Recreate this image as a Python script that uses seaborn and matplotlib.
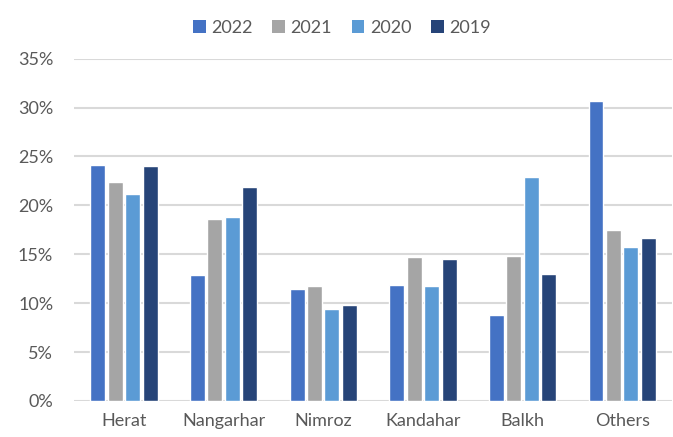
import matplotlib
matplotlib.use("Agg")
import matplotlib.pyplot as plt
from matplotlib.ticker import PercentFormatter
from matplotlib.patches import Patch
import seaborn as sns
import pandas as pd

# shares (percent)
regions = ["Herat", "Nangarhar", "Nimroz", "Kandahar", "Balkh", "Others"]
years = ["2022", "2021", "2020", "2019"]
y2022 = [24.1, 12.9, 11.4, 11.9, 8.8, 30.7]
y2021 = [22.4, 18.6, 11.8, 14.7, 14.8, 17.5]
y2020 = [21.2, 18.8, 9.4, 11.8, 22.9, 15.7]
y2019 = [24.0, 21.9, 9.8, 14.5, 13.0, 16.7]
colors = ["#4472C4", "#A5A5A5", "#5B9BD5", "#264478"]

rows = []
for yr, vals in zip(years, [y2022, y2021, y2020, y2019]):
    for reg, v in zip(regions, vals):
        rows.append({"region": reg, "year": yr, "share": v})
df = pd.DataFrame(rows)

sns.set_style("white")
plt.rcParams["font.family"] = ["Lato", "DejaVu Sans"]
text_col = "#595959"

fig = plt.figure(figsize=(6.73, 4.37), dpi=100)
ax = fig.add_axes([0.110, 0.0824, 0.8885, 0.7833])

sns.barplot(data=df, x="region", y="share", hue="year", hue_order=years,
            palette=colors, saturation=1, width=0.70, gap=0.14,
            errorbar=None, ax=ax, legend=False, zorder=3)

ax.set_ylim(0, 35)
ax.set_yticks(range(0, 36, 5))
ax.yaxis.set_major_formatter(PercentFormatter(decimals=0))
ax.set_xlim(-0.5, len(regions) - 0.5)
ax.grid(axis="y", color="#D9D9D9", linewidth=1.5, zorder=0)
ax.set_axisbelow(True)
for s in ax.spines.values():
    s.set_visible(False)
ax.tick_params(axis="both", length=0, labelsize=13, colors=text_col)
ax.tick_params(axis="x", pad=9)
ax.tick_params(axis="y", pad=15)
ax.set_xlabel("")
ax.set_ylabel("")

handles = [Patch(facecolor=c, edgecolor="none") for c in colors]
fig.legend(handles, years, loc="center", bbox_to_anchor=(0.508, 0.936), ncol=4,
           frameon=False, fontsize=13, labelcolor=text_col,
           handlelength=0.7, handleheight=0.7, handletextpad=0.3,
           columnspacing=1.1)

fig.savefig("out.png", dpi=100)
